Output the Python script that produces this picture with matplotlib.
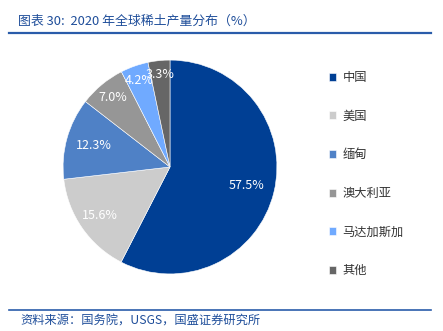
import matplotlib
matplotlib.use("Agg")
import matplotlib.pyplot as plt
from matplotlib.lines import Line2D
import numpy as np

plt.rcParams['font.family'] = ['Noto Sans CJK SC', 'DejaVu Sans']

countries = ['中国', '美国', '缅甸', '澳大利亚', '马达加斯加', '其他']
shares = [57.5, 15.6, 12.3, 7.0, 4.2, 3.3]
colors = ['#003F94', '#CCCCCC', '#4F81C6', '#969696', '#70AAFF', '#666666']
label_dist = [0.74, 0.80, 0.74, 0.84, 0.86, 0.87]

fig = plt.figure(figsize=(4.43, 3.31), dpi=100)

# title and rules
fig.text(18/443, 1 - 21/331, '图表 30:  2020 年全球稀土产量分布（%）', fontsize=9.3,
         color='#1F4E9A', style='italic', va='center', ha='left')
fig.add_artist(Line2D([9/443, 431/443], [1 - 33/331, 1 - 33/331], color='#2A5CAA', lw=1.6))
fig.add_artist(Line2D([9/443, 431/443], [1 - 310/331, 1 - 310/331], color='#2A5CAA', lw=1.2))
fig.text(20/443, 1 - 321/331, '资料来源：国务院，USGS，国盛证券研究所', fontsize=8.8,
         color='#1F4E9A', style='italic', va='center', ha='left')

ax = fig.add_axes([62/443, (331 - 275)/331, 216/443, 216/331])
wedges, texts = ax.pie(shares, colors=colors, startangle=90, counterclock=False,
                       wedgeprops=dict(edgecolor='white', linewidth=0.4))
# value labels placed inside each wedge
for w, v, d in zip(wedges, shares, label_dist):
    ang = np.deg2rad((w.theta1 + w.theta2) / 2)
    ax.text(d * np.cos(ang), d * np.sin(ang), f'{v:.1f}%', color='white',
            fontsize=9, ha='center', va='center')
ax.set_xlim(-1.01, 1.01)
ax.set_ylim(-1.01, 1.01)
ax.set_aspect('equal')

fig.legend(wedges, countries, loc='upper left', bbox_to_anchor=(318/443, 1 - 60/331),
           frameon=False, fontsize=8.8, labelspacing=2.1, handlelength=0.6,
           handleheight=0.6, handletextpad=0.5, labelcolor='#333333')

fig.savefig('out.png', dpi=100)
